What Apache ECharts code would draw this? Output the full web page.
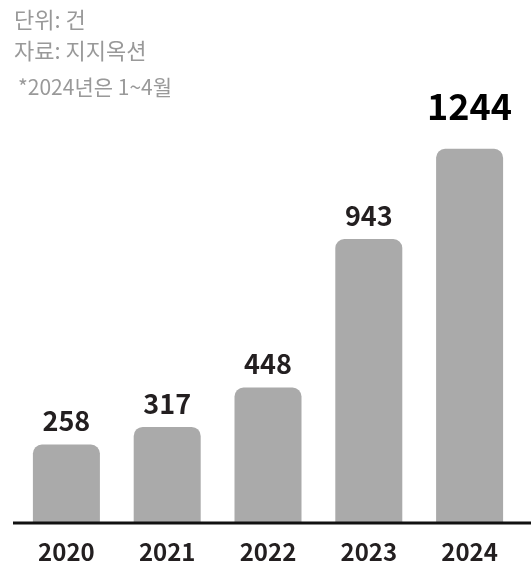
<!DOCTYPE html>
<html>
<head>
<meta charset="utf-8">
<script src="https://cdn.jsdelivr.net/npm/echarts@6/dist/echarts.min.js"></script>
<style>
  html, body { margin: 0; padding: 0; background: #fff; }
  #chart { width: 531px; height: 569px; }
</style>
</head>
<body>
<div id="chart"></div>
<script>
const years = ['2020', '2021', '2022', '2023', '2024']
const counts = [258, 317, 448, 943, 1244]
const notes = ['단위: 건', '자료: 지지옥션']
const footnote = '*2024년은 1~4월'

const chart = echarts.init(document.getElementById('chart'))
const font = '"Noto Sans CJK KR", "Noto Sans", sans-serif'

const option = {
  animation: false,
  grid: { left: 16, right: 11, top: 72, bottom: 47 },
  xAxis: {
    type: 'category',
    data: years,
    axisLine: { show: false },
    axisTick: { show: false },
    axisLabel: {
      margin: 18,
      fontFamily: font,
      fontSize: 24,
      fontWeight: 'bold',
      color: '#231f20'
    }
  },
  yAxis: {
    type: 'value',
    min: 0,
    max: 1500,
    show: false,
    splitLine: { show: false }
  },
  graphic: [
    {
      type: 'line',
      shape: { x1: 13, y1: 523, x2: 531, y2: 523 },
      style: { stroke: '#111', lineWidth: 3 },
      z: 10
    },
    {
      type: 'text', left: 14, top: 9,
      style: { text: notes[0], fontFamily: font, fontSize: 22, fill: '#999' }
    },
    {
      type: 'text', left: 14, top: 40,
      style: { text: notes[1], fontFamily: font, fontSize: 22, fill: '#999' }
    },
    {
      type: 'text', left: 18, top: 77,
      style: { text: footnote, fontFamily: font, fontSize: 21, fill: '#999' }
    }
  ],
  series: [{
    type: 'bar',
    barWidth: 67,
    data: counts.map((v, i) => i === counts.length - 1
      ? { value: v, label: { fontSize: 36, color: '#000', distance: 24 } }
      : v),
    itemStyle: { color: '#aaaaaa', borderRadius: [9, 9, 0, 0] },
    label: {
      show: true,
      position: 'top',
      distance: 10,
      fontFamily: font,
      fontSize: 27,
      fontWeight: 'bold',
      color: '#231f20'
    }
  }]
}

chart.setOption(option)
</script>
</body>
</html>
